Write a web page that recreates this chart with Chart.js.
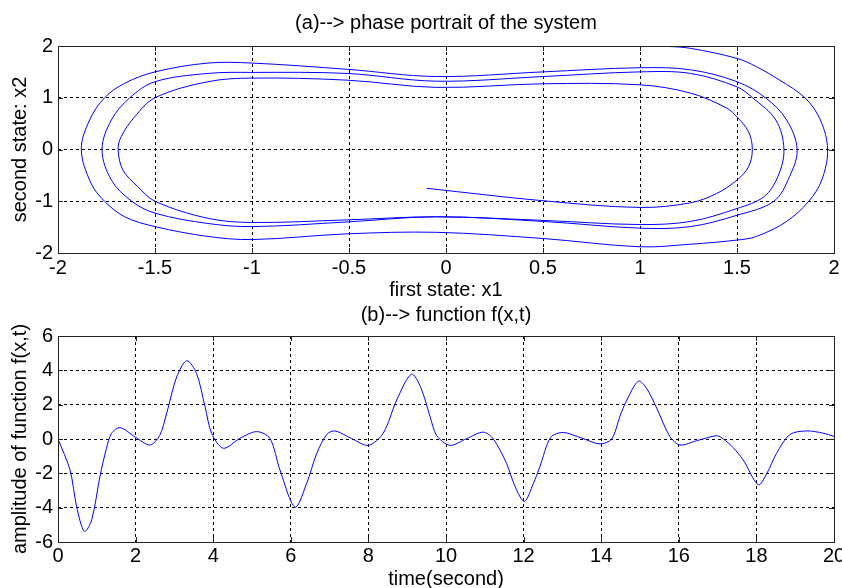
<!DOCTYPE html>
<html>
<head>
<meta charset="utf-8">
<script src="https://cdn.jsdelivr.net/npm/chart.js@4"></script>
<style>
  html, body { margin: 0; padding: 0; background: #fff; overflow: hidden; }
  canvas { position: absolute; left: 0; }
  #phase { top: 0; }
  #force { top: 302px; }
</style>
</head>
<body>
<canvas id="phase" width="842" height="302"></canvas>
<canvas id="force" width="842" height="292"></canvas>
<script>
// (a) phase portrait: state x1 vs x2, starting at (1, 2) and spiralling inwards
const x1 = [1.00, 1.15, 1.26, 1.50, 1.60, 1.72, 1.85, 1.93, 1.967, 1.937, 1.87, 1.756, 1.60, 1.50, 1.26, 1.00, 0.50, -0.05, -0.51, -1.00, -1.227, -1.50, -1.656, -1.76, -1.83, -1.88, -1.837, -1.76, -1.656, -1.50, -1.227, -1.00, -0.51, -0.05, 0.50, 1.00, 1.26, 1.50, 1.65, 1.756, 1.81, 1.77, 1.69, 1.50, 1.26, 1.00, 0.50, -0.05, -0.51, -1.00, -1.227, -1.50, -1.62, -1.725, -1.773, -1.725, -1.63, -1.50, -1.227, -1.00, -0.51, -0.05, 0.50, 1.00, 1.26, 1.50, 1.58, 1.70, 1.742, 1.71, 1.64, 1.50, 1.26, 1.00, 0.50, -0.05, -0.51, -1.00, -1.227, -1.50, -1.588, -1.665, -1.69, -1.674, -1.605, -1.50, -1.227, -1.00, -0.51, -0.05, 0.50, 1.00, 1.26, 1.447, 1.50, 1.56, 1.579, 1.56, 1.50, 1.395, 1.26, 1.00, 0.50, -0.10];
const x2 = [2.00, 1.99, 1.955, 1.76, 1.60, 1.34, 1.00, 0.57, 0.00, -0.59, -1.00, -1.39, -1.68, -1.75, -1.83, -1.88, -1.72, -1.60, -1.63, -1.74, -1.68, -1.49, -1.30, -1.00, -0.65, 0.00, 0.57, 1.00, 1.28, 1.50, 1.67, 1.67, 1.55, 1.41, 1.50, 1.58, 1.54, 1.31, 0.99, 0.57, 0.00, -0.53, -1.00, -1.27, -1.49, -1.52, -1.39, -1.30, -1.40, -1.49, -1.43, -1.23, -1.00, -0.59, 0.00, 0.57, 1.00, 1.31, 1.47, 1.49, 1.47, 1.32, 1.41, 1.50, 1.47, 1.21, 1.00, 0.57, 0.00, -0.53, -0.91, -1.14, -1.39, -1.45, -1.37, -1.30, -1.36, -1.41, -1.33, -1.00, -0.72, -0.40, 0.00, 0.25, 0.63, 1.00, 1.31, 1.38, 1.34, 1.20, 1.27, 1.25, 1.09, 0.80, 0.63, 0.34, 0.00, -0.33, -0.59, -0.85, -1.03, -1.12, -0.99, -0.75];

// (b) function f(x,t) over time
const time = [0, 0.31, 0.48, 0.68, 0.87, 1.08, 1.25, 1.38, 1.60, 2.00, 2.37, 2.62, 2.80, 3.06, 3.32, 3.57, 3.79, 3.96, 4.26, 4.69, 5.12, 5.46, 5.72, 6.11, 6.41, 6.67, 6.93, 7.14, 7.57, 8.00, 8.38, 8.73, 9.11, 9.35, 9.59, 9.76, 10.10, 10.53, 10.96, 11.22, 11.56, 11.78, 12.02, 12.25, 12.42, 12.70, 13.02, 13.50, 13.97, 14.27, 14.48, 14.66, 14.96, 15.17, 15.43, 15.77, 16.03, 16.46, 16.98, 17.15, 17.40, 17.66, 18.05, 18.27, 18.52, 18.87, 19.30, 19.70, 20.00];
const fxt = [0, -1.80, -3.94, -5.39, -4.70, -2.19, -0.54, 0.33, 0.66, 0.10, -0.35, 0.20, 1.49, 3.62, 4.56, 3.82, 1.88, 0.33, -0.54, 0.04, 0.43, 0.04, -1.80, -3.97, -2.58, -0.83, 0.27, 0.47, 0.02, -0.37, 0.33, 2.27, 3.78, 3.00, 1.30, 0.20, -0.37, 0.02, 0.40, 0.00, -1.42, -2.77, -3.64, -2.60, -1.61, 0.10, 0.38, 0.05, -0.29, 0.00, 1.30, 2.27, 3.37, 2.95, 1.80, 0.14, -0.35, -0.10, 0.19, 0.00, -0.50, -1.22, -2.67, -2.00, -0.83, 0.27, 0.47, 0.35, 0.16];

// tick labels
const phaseXTicks = [-2, -1.5, -1, -0.5, 0, 0.5, 1, 1.5, 2];
const phaseYTicks = [-2, -1, 0, 1, 2];
const timeTicks = [0, 2, 4, 6, 8, 10, 12, 14, 16, 18, 20];
const ampTicks = [-6, -4, -2, 0, 2, 4, 6];

const FONT = "'Liberation Sans', Arial, sans-serif";
const FSIZE = 20;

// matlab-like box with inward tick marks
const boxPlugin = {
    id: 'box',
    afterDraw(chart) {
        const {ctx, chartArea: a, scales} = chart;
        ctx.save();
        ctx.strokeStyle = '#222';
        ctx.lineWidth = 1;
        ctx.setLineDash([]);
        ctx.beginPath();
        scales.x.ticks.forEach(t => {
            const px = Math.round(scales.x.getPixelForValue(t.value)) + 0.5;
            ctx.moveTo(px, a.bottom); ctx.lineTo(px, a.bottom - 5);
            ctx.moveTo(px, a.top); ctx.lineTo(px, a.top + 5);
        });
        scales.y.ticks.forEach(t => {
            const py = Math.round(scales.y.getPixelForValue(t.value)) + 0.5;
            ctx.moveTo(a.left, py); ctx.lineTo(a.left + 5, py);
            ctx.moveTo(a.right, py); ctx.lineTo(a.right - 5, py);
        });
        ctx.stroke();
        ctx.strokeRect(Math.round(a.left) + 0.5, Math.round(a.top) + 0.5,
            Math.round(a.right - a.left), Math.round(a.bottom - a.top));
        ctx.restore();
    }
};

function makeAxis(min, max, tickList, title, isX, fixedSize, tickPad, titlePad) {
    return {
        type: 'linear',
        min: min,
        max: max,
        afterBuildTicks: s => { s.ticks = tickList.map(v => ({value: v})); },
        afterFit: s => {
            if (isX) { s.height = fixedSize; s.paddingLeft = 0; s.paddingRight = 0; }
            else { s.width = fixedSize; s.paddingTop = 0; s.paddingBottom = 0; }
        },
        grid: { color: '#000', lineWidth: 1, drawTicks: false },
        border: { display: false, dash: [3, 3] },
        ticks: {
            color: '#000', font: { family: FONT, size: FSIZE }, padding: tickPad,
            maxRotation: 0, autoSkip: false,
            callback: v => String(v)
        },
        title: { display: true, text: title, color: '#000', font: { family: FONT, size: FSIZE }, padding: titlePad }
    };
}

function titleOpts(text, top, bottom) {
    return {
        display: true, text: text, color: '#000', fullSize: false,
        font: { family: FONT, size: FSIZE, weight: 'normal' },
        padding: { top: top, bottom: bottom }
    };
}

new Chart('phase', {
    type: 'scatter',
    data: {
        datasets: [{
            data: x1.map((v, i) => ({x: v, y: x2[i]})),
            showLine: true,
            borderColor: '#0000ff',
            borderWidth: 1,
            pointRadius: 0,
            tension: 0.35
        }]
    },
    options: {
        responsive: false,
        animation: false,
        layout: { padding: { left: 0, right: 8, top: 0, bottom: 0 } },
        plugins: {
            legend: { display: false },
            tooltip: { enabled: false },
            title: titleOpts('(a)--> phase portrait of the system', 11, 11)
        },
        scales: {
            x: makeAxis(-2, 2, phaseXTicks, 'first state: x1', true, 49, 3, { top: 0, bottom: 0 }),
            y: makeAxis(-2, 2, phaseYTicks, 'second state: x2', false, 58, 5, { top: 8, bottom: 0 })
        }
    },
    plugins: [boxPlugin]
});

new Chart('force', {
    type: 'scatter',
    data: {
        datasets: [{
            data: time.map((t, i) => ({x: t, y: fxt[i]})),
            showLine: true,
            borderColor: '#0000ff',
            borderWidth: 1,
            pointRadius: 0,
            tension: 0.3
        }]
    },
    options: {
        responsive: false,
        animation: false,
        layout: { padding: { left: 0, right: 8, top: 0, bottom: 0 } },
        plugins: {
            legend: { display: false },
            tooltip: { enabled: false },
            title: titleOpts('(b)--> function f(x,t)', 1, 9)
        },
        scales: {
            x: makeAxis(0, 20, timeTicks, 'time(second)', true, 52, 2, { top: 0, bottom: 3 }),
            y: makeAxis(-6, 6, ampTicks, 'amplitude of function f(x,t)', false, 58, 5, { top: 8, bottom: 0 })
        }
    },
    plugins: [boxPlugin]
});
</script>
</body>
</html>
